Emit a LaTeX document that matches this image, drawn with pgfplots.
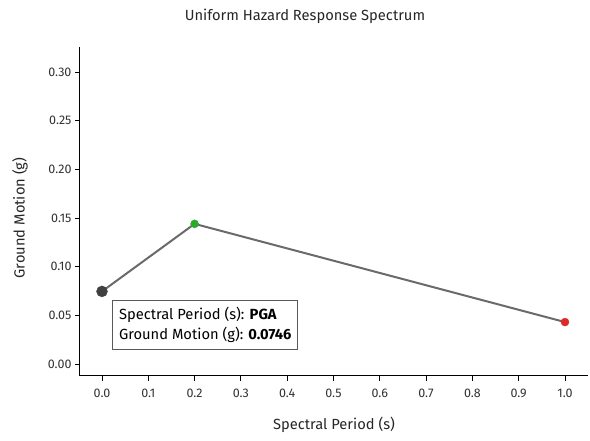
\documentclass[border=0pt]{standalone}
\usepackage{fontspec}
\setmainfont{Fira Sans}
\usepackage{pgfplots}
\pgfplotsset{compat=1.18}
\definecolor{linegray}{HTML}{5A5A5A}
\definecolor{ptdark}{HTML}{404040}
\definecolor{ptgreen}{HTML}{2AAA2A}
\definecolor{ptred}{HTML}{DD2A2A}
\begin{document}
\begin{tikzpicture}[x=1pt,y=1pt]
\path[use as bounding box] (0,0) rectangle (590,441);
\begin{axis}[
    at={(80pt,65pt)}, anchor=south west,
    scale only axis,
    width=508pt, height=329pt,
    xmin=-0.0475, xmax=1.0497,
    ymin=-0.0123, ymax=0.3257,
    axis x line*=bottom, axis y line*=left,
    axis line style={-, line width=1pt, black},
    xtick={0,0.1,...,1.0},
    ytick={0,0.05,...,0.30},
    xticklabel style={/pgf/number format/.cd, fixed, fixed zerofill, precision=1},
    yticklabel style={/pgf/number format/.cd, fixed, fixed zerofill, precision=2},
    /pgf/number format/assume math mode=true,
    tick align=outside,
    major tick length=5pt,
    tick style={black, line width=0.8pt},
    ticklabel style={font=\fontsize{12.5}{14}\selectfont, text=black!80},
    xticklabel shift=4pt,
    clip=false,
]
\addplot[linegray, line width=2pt, opacity=0.9] coordinates {
    (0.0,0.0746) (0.2,0.1440) (1.0,0.0431)
};
\addplot[only marks, mark=*, mark size=5.5pt, color=ptdark] coordinates {(0.0,0.0746)};
\addplot[only marks, mark=*, mark size=4pt, color=ptgreen] coordinates {(0.2,0.1440)};
\addplot[only marks, mark=*, mark size=4pt, color=ptred] coordinates {(1.0,0.0431)};
\node[draw=black!65, line width=0.8pt, fill=white, anchor=north west, align=left,
      inner xsep=6.5pt, inner ysep=7pt,
      font=\fontsize{14.7}{19.5}\selectfont]
  at (axis cs:0.022,0.0660) {Spectral Period (s): \textbf{PGA}\\Ground Motion (g): \textbf{0.0746}};
\end{axis}
\node[font=\fontsize{14.7}{16}\selectfont, text=black!85] at (305,425) {Uniform Hazard Response Spectrum};
\node[font=\fontsize{14.7}{16}\selectfont, text=black!85] at (334,16) {Spectral Period (s)};
\node[font=\fontsize{14.7}{16}\selectfont, text=black!85, rotate=90] at (20,223) {Ground Motion (g)};
\end{tikzpicture}
\end{document}
